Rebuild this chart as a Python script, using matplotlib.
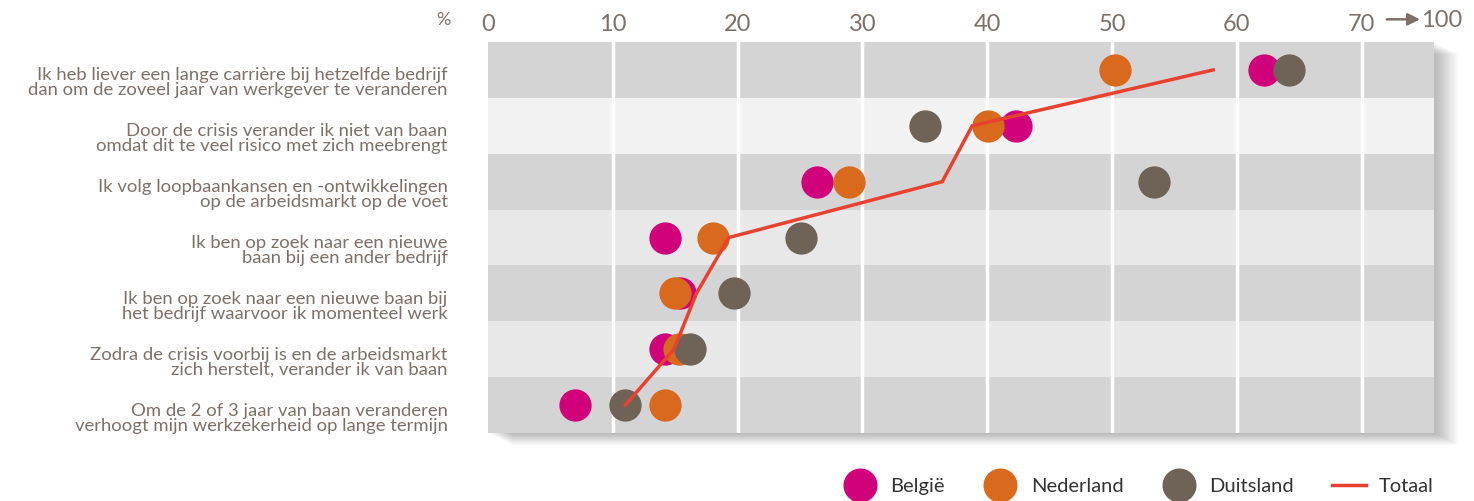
import matplotlib.pyplot as plt
import matplotlib.transforms as mtransforms
from matplotlib.lines import Line2D
from matplotlib.patches import Rectangle

plt.rcParams['font.family'] = ['Lato', 'DejaVu Sans']

statements = [
    "Ik heb liever een lange carrière bij hetzelfde bedrijf\ndan om de zoveel jaar van werkgever te veranderen",
    "Door de crisis verander ik niet van baan\nomdat dit te veel risico met zich meebrengt",
    "Ik volg loopbaankansen en -ontwikkelingen\nop de arbeidsmarkt op de voet",
    "Ik ben op zoek naar een nieuwe\nbaan bij een ander bedrijf",
    "Ik ben op zoek naar een nieuwe baan bij\nhet bedrijf waarvoor ik momenteel werk",
    "Zodra de crisis voorbij is en de arbeidsmarkt\nzich herstelt, verander ik van baan",
    "Om de 2 of 3 jaar van baan veranderen\nverhoogt mijn werkzekerheid op lange termijn",
]
belgie = [62.2, 42.3, 26.4, 14.2, 15.4, 14.2, 7.0]
nederland = [50.2, 40.1, 28.9, 18.0, 15.0, 15.3, 14.2]
duitsland = [64.2, 35.0, 53.4, 25.1, 19.7, 16.2, 11.0]
totaal = [58.1, 38.8, 36.4, 19.3, 16.7, 14.9, 11.0]
x_ticks = [0, 10, 20, 30, 40, 50, 60, 70]

GREY_TXT = "#7d7068"
C_BE = "#d1007b"
C_NL = "#d9691c"
C_DE = "#6f6357"
C_TOT = "#e8412f"
band_colors = ["#d4d4d4", "#f2f2f2", "#d4d4d4", "#e8e8e8", "#d4d4d4", "#e8e8e8", "#d4d4d4"]

fig = plt.figure(figsize=(14.74, 5.01), dpi=100)
ax = fig.add_axes([488 / 1474, 68 / 501, 946 / 1474, 391 / 501])
ax.patch.set_visible(False)
rows = list(range(len(statements)))

# soft drop shadow right/below the panel
for k in range(1, 13):
    tr = mtransforms.offset_copy(ax.transAxes, fig=fig, x=2 * k, y=-k, units="dots")
    ax.add_patch(Rectangle((0, 0), 1, 1, transform=tr, facecolor="black",
                           alpha=0.022, lw=0, clip_on=False, zorder=0))

for r, c in zip(rows, band_colors):
    ax.axhspan(r - 0.5, r + 0.5, color=c, lw=0, zorder=1)
for t in x_ticks[1:]:
    ax.axvline(t, color="white", lw=2.5, zorder=2)

ax.plot(totaal, rows, color=C_TOT, lw=2.5, zorder=6, solid_joinstyle="miter")
size = 540
ax.scatter(belgie, rows, s=size, color=C_BE, lw=0, zorder=3)
ax.scatter(nederland, rows, s=size, color=C_NL, lw=0, zorder=4)
ax.scatter(duitsland, rows, s=size, color=C_DE, lw=0, zorder=5)

ax.set_xlim(0, 75.8)
ax.set_ylim(len(statements) - 0.5, -0.5)
ax.xaxis.tick_top()
ax.set_xticks(x_ticks)
ax.set_xticklabels([str(t) for t in x_ticks], fontsize=17, color=GREY_TXT)
ax.set_yticks(rows)
ax.set_yticklabels(statements, fontsize=13.3, color=GREY_TXT, linespacing=0.92)
ax.tick_params(length=0)
ax.tick_params(axis="x", pad=5)
ax.tick_params(axis="y", pad=29)
# statement labels sit a little below their row centre in the original
shift = mtransforms.ScaledTranslation(0, -12 / 100, fig.dpi_scale_trans)
for lab in ax.get_yticklabels():
    lab.set_transform(lab.get_transform() + shift)
for s in ax.spines.values():
    s.set_visible(False)

top = mtransforms.blended_transform_factory(ax.transData, ax.transAxes)
ax.annotate("", xy=(74.9, 1.058), xytext=(71.8, 1.058), xycoords=top,
            arrowprops=dict(arrowstyle="-|>", color=GREY_TXT, lw=1.8, mutation_scale=18))
ax.text(76.4, 1.056, "100", transform=top, ha="center", va="center",
        fontsize=17, color=GREY_TXT, clip_on=False)
ax.text(-3.6, 1.056, "%", transform=top, ha="center", va="center",
        fontsize=13, color=GREY_TXT, clip_on=False)

handles = [
    Line2D([], [], ls="", marker="o", markersize=23.5, color=C_BE, label="België"),
    Line2D([], [], ls="", marker="o", markersize=23.5, color=C_NL, label="Nederland"),
    Line2D([], [], ls="", marker="o", markersize=23.5, color=C_DE, label="Duitsland"),
    Line2D([], [], color=C_TOT, lw=2.5, label="Totaal"),
]
leg = fig.legend(handles=handles, loc="center right", bbox_to_anchor=(1434 / 1474, 15 / 501),
                 ncol=4, frameon=False, fontsize=14.5, handlelength=1.7, handletextpad=0.65,
                 columnspacing=1.9, borderpad=0, borderaxespad=0)
for t in leg.get_texts():
    t.set_color("#333333")

fig.savefig("out.png", dpi=100)
